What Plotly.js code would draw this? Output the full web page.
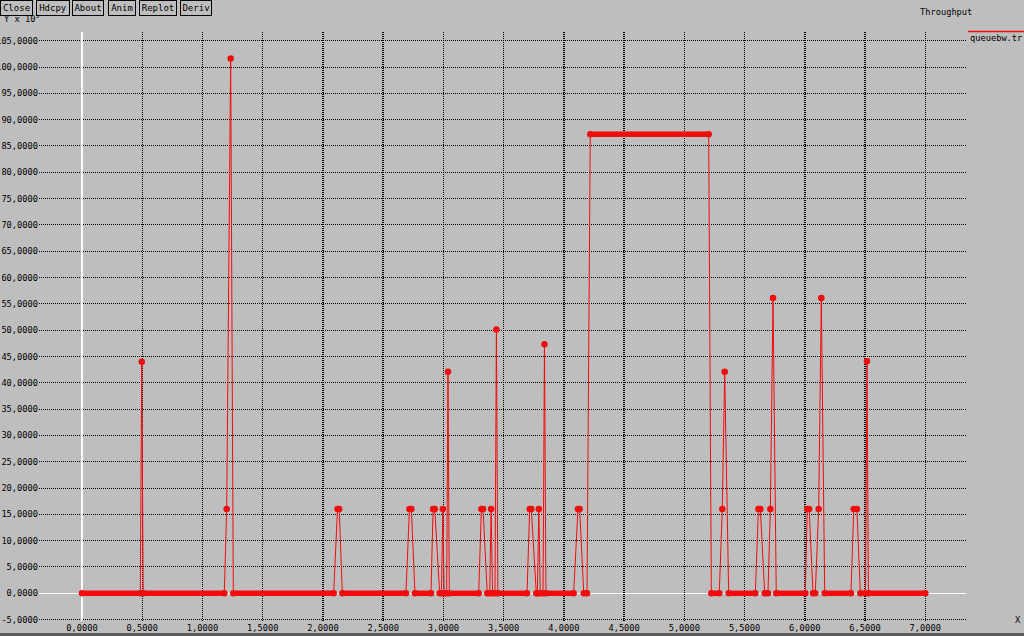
<!DOCTYPE html>
<html>
<head>
<meta charset="utf-8">
<script src="https://cdn.plot.ly/plotly-3.0.1.min.js"></script>
<style>html,body{margin:0;padding:0;background:#bebebe;overflow:hidden}#chart{width:1024px;height:636px}</style>
</head>
<body>
<div id="chart"></div>
<script>
const timeS = [
  0.000, 0.484, 0.496, 0.508,
  1.181, 1.201, 1.234, 1.256,
  2.089, 2.121, 2.135, 2.161,
  2.689, 2.718, 2.734, 2.764,
  2.897, 2.914, 2.928, 2.969, 2.984, 2.995, 3.006, 3.027, 3.038, 3.049,
  3.293, 3.315, 3.329, 3.364, 3.384, 3.396, 3.408, 3.428, 3.440, 3.452,
  3.694, 3.716, 3.730, 3.771, 3.780, 3.792, 3.804, 3.827, 3.839, 3.851,
  4.081, 4.117, 4.131, 4.165, 4.192,
  4.219, 5.202,
  5.224, 5.290, 5.315, 5.335, 5.368,
  5.589, 5.615, 5.631, 5.667, 5.694, 5.714, 5.736, 5.763,
  6.004, 6.020, 6.036, 6.068, 6.087, 6.115, 6.137, 6.165,
  6.383, 6.406, 6.432, 6.461, 6.504, 6.516, 6.528,
  7.000
];
// Throughput (Y x 10^3) of each sample
const throughput = [
  0, 0, 44.0, 0,
  0, 16, 101.6, 0,
  0, 16, 16, 0,
  0, 16, 16, 0,
  0, 16, 16, 0, 0, 16, 0, 0, 42.1, 0,
  0, 16, 16, 0, 0, 16, 0, 0, 50.1, 0,
  0, 16, 16, 0, 0, 16, 0, 0, 47.3, 0,
  0, 16, 16, 0, 0,
  87.2, 87.2,
  0, 0, 16, 42.1, 0,
  0, 16, 16, 0, 0, 16, 56.1, 0,
  0, 16, 16, 0, 0, 16, 56.1, 0,
  0, 16, 16, 0, 0, 44.1, 0,
  0
];
const seriesName = 'queuebw.tr';
const chartTitle = 'Throughput';
const yUnitLabel = 'Y x 10<sup>3</sup>';
const xAxisLabel = 'X';
const buttonLabels = ['Close', 'Hdcpy', 'About', 'Anim', 'Replot', 'Deriv'];
const xTickValues = [0,0.5,1,1.5,2,2.5,3,3.5,4,4.5,5,5.5,6,6.5,7];
const yTickValues = [-5,0,5,10,15,20,25,30,35,40,45,50,55,60,65,70,75,80,85,90,95,100,105];

const fmt = v => v.toFixed(4).replace('.', ',');
const RED = '#f20c0c';
const BG = '#bebebe';
const FONT = 'DejaVu Sans Mono, monospace';
const FS = 8.7;

// flat runs (consecutive equal samples) are drawn as a thick band of dots
const runX = [], runY = [];
for (let i = 0; i < timeS.length - 1; i++) {
  if (throughput[i] === throughput[i + 1]) {
    runX.push(timeS[i], timeS[i + 1], null);
    runY.push(throughput[i], throughput[i + 1], null);
  }
}

const traces = [
  {x: runX, y: runY, mode: 'lines', line: {color: RED, width: 5.5}, hoverinfo: 'skip'},
  {x: timeS, y: throughput, mode: 'lines+markers', name: seriesName,
   line: {color: RED, width: 1}, marker: {color: RED, size: 6.5}}
];

// pixel helpers for decorations (plot area: x 39..966, y 32..621)
const L = 39, R = 58, T = 32, B = 15, W = 1024, H = 636;
const pw = W - L - R, ph = H - T - B;
const px = v => (v - L) / pw;
const py = v => (H - B - v) / ph;

const txt = {family: FONT, size: FS, color: '#000'};
const annotations = [
  {text: yUnitLabel, xref: 'paper', yref: 'paper', x: px(2), y: py(18), xanchor: 'left', yanchor: 'middle', showarrow: false, font: txt},
  {text: chartTitle, xref: 'paper', yref: 'paper', x: px(946), y: py(12), xanchor: 'center', yanchor: 'middle', showarrow: false, font: txt},
  {text: seriesName, xref: 'paper', yref: 'paper', x: px(968), y: py(38), xanchor: 'left', yanchor: 'middle', showarrow: false, font: txt},
  {text: xAxisLabel, xref: 'paper', yref: 'paper', x: px(1018), y: py(620), xanchor: 'center', yanchor: 'middle', showarrow: false, font: txt}
];
const btnLeft = [0, 36, 72, 108, 139, 180];
const btnW = [33, 34, 32, 28, 38, 32];
buttonLabels.forEach((b, i) => {
  annotations.push({text: b, xref: 'paper', yref: 'paper', x: px(btnLeft[i]), y: py(0),
    xanchor: 'left', yanchor: 'top', showarrow: false, width: btnW[i] - 2, height: 14,
    bgcolor: BG, bordercolor: '#000', borderwidth: 1, borderpad: 0,
    font: {family: FONT, size: 9, color: '#000'}});
});

const shapes = [
  {type: 'line', xref: 'paper', yref: 'paper', x0: px(968), x1: px(1024), y0: py(31.5), y1: py(31.5), line: {color: RED, width: 1.5}},
  {type: 'rect', xref: 'paper', yref: 'paper', x0: px(0), x1: px(1024), y0: py(633), y1: py(637), fillcolor: '#5a5a5a', line: {width: 0}}
];

const axisCommon = {
  showgrid: true, gridcolor: '#000', griddash: '1px,1px',
  zeroline: true, zerolinecolor: '#ffffff', zerolinewidth: 1.5,
  showline: false, ticks: '', fixedrange: true,
  tickfont: txt
};

const layout = {
  width: W, height: H,
  margin: {l: L, r: R, t: T, b: B, pad: 0},
  paper_bgcolor: BG, plot_bgcolor: BG,
  showlegend: false,
  font: txt,
  xaxis: Object.assign({}, axisCommon, {range: [-0.357, 7.338], tickmode: 'array', tickvals: xTickValues, ticktext: xTickValues.map(fmt), gridwidth: 1.4}),
  yaxis: Object.assign({}, axisCommon, {range: [-5.263, 106.65], tickmode: 'array', tickvals: yTickValues, ticktext: yTickValues.map(fmt), gridwidth: 1}),
  annotations: annotations,
  shapes: shapes
};

Plotly.newPlot('chart', traces, layout, {displayModeBar: false, staticPlot: true});
</script>
</body>
</html>
